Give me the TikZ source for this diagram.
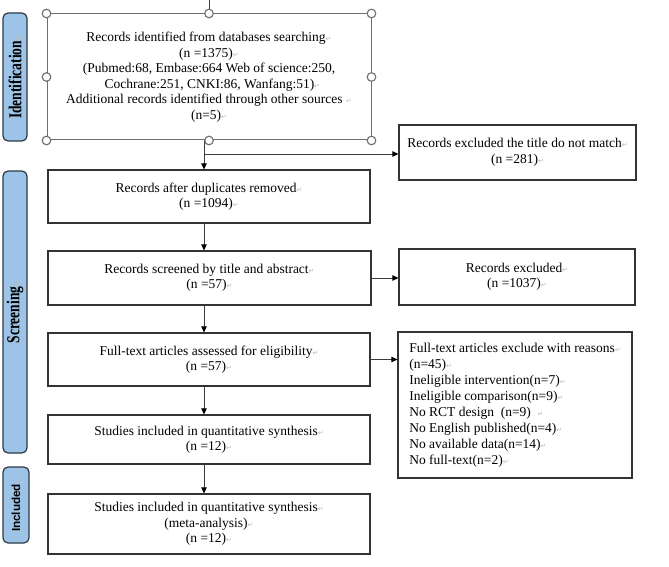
\documentclass[tikz,border=0pt]{standalone}
\usepackage{fontspec}
\setmainfont{Liberation Serif}
\newfontfamily\labsans{Liberation Sans}
\newfontfamily\dvsans{DejaVu Sans}
\usetikzlibrary{arrows.meta}
\definecolor{labblue}{RGB}{157,195,230}
\definecolor{labline}{RGB}{47,58,70}
\definecolor{boxline}{RGB}{51,51,51}
\definecolor{selline}{RGB}{110,110,110}
\definecolor{arrline}{RGB}{60,60,60}
\newcommand{\rt}{{\dvsans\fontsize{7}{7}\selectfont\color{gray!55}↵}}
\begin{document}
\begin{tikzpicture}[x=1pt,y=-1pt,
  box/.style={draw=boxline,line width=1.2pt,minimum width=322pt,inner sep=0pt,align=center,
    font=\fontsize{13.5}{15.5}\selectfont},
  selbox/.style={draw=selline,line width=1pt,minimum width=324pt,minimum height=126pt,inner sep=0pt,align=center,
    font=\fontsize{13.5}{15.5}\selectfont},
  handle/.style={draw=selline,line width=1.1pt,fill=white},
  lab/.style={draw=labline,line width=1.2pt,fill=labblue,rounded corners=5pt,inner sep=0pt,minimum width=24pt},
  arr/.style={draw=arrline,line width=0.8pt,-{Triangle[length=6pt,width=5.5pt,color=black]}},
  conn/.style={draw=arrline,line width=0.8pt}
]
\useasboundingbox (0,0) rectangle (669,567);

% side labels
\node[lab,minimum height=128pt] (lid) at (15,77)
  {\rotatebox{90}{\scalebox{1}[1.35]{\fontsize{13.5}{13.5}\selectfont\bfseries Identification\rt}}};
\node[lab,minimum height=282pt] (lsc) at (15,312)
  {\rotatebox{90}{\scalebox{1}[1.35]{\fontsize{13.5}{13.5}\selectfont\bfseries Screening\rt}}};
\node[lab,minimum width=26pt,minimum height=76pt] (lin) at (16,505)
  {\rotatebox{90}{\labsans\fontsize{11.7}{11.7}\selectfont\bfseries Included\rt}};

% main column
\node[selbox] (b1) at (209,77) {Records identified from databases searching\rt\\
(n =1375)\rt\\
(Pubmed:68, Embase:664 Web of science:250, \\
\ \ Cochrane:251, CNKI:86, Wanfang:51)\rt\\
Additional records identified through other sources \rt\\
(n=5)\rt};
\node[box,minimum height=53pt] (b2) at (209,196.5) {Records after duplicates removed\rt\\(n =1094)\rt};
\node[box,minimum height=54pt,minimum width=323pt] (b3) at (209.5,278) {Records screened by title and abstract\rt\\(n =57)\rt};
\node[box,minimum height=53pt] (b4) at (209,359.5) {Full-text articles assessed for eligibility\rt\\(n =57)\rt};
\node[box,minimum height=49pt] (b5) at (209,439.5) {Studies included in quantitative synthesis\rt\\(n =12)\rt};
\node[box,minimum height=60pt] (b6) at (209,524) {Studies included in quantitative synthesis\rt\\(meta-analysis)\rt\\(n =12)\rt};

% exclusion column
\node[box,minimum width=237pt,minimum height=55pt] (e1) at (517.5,152.5) {Records excluded the title do not match\rt\\(n =281)\rt};
\node[box,minimum width=236pt,minimum height=56pt] (e2) at (517,277) {Records excluded\rt\\(n =1037)\rt};
\node[box,minimum width=234pt,minimum height=146pt,align=left,
  font=\fontsize{13.5}{16}\selectfont] (e3) at (515,405)
  {Full-text articles exclude with reasons\rt\\
   (n=45)\rt\\
   Ineligible intervention(n=7)\rt\\
   Ineligible comparison(n=9)\rt\\
   No RCT design\ \ (n=9)\ \ \rt\\
   No English published(n=4)\rt\\
   No available data(n=14)\rt\\
   No full-text(n=2)\rt};

% connectors
\coordinate (topend) at (209,0);
\coordinate (axis) at (204,0);
\coordinate (branch) at (204,154);
\draw[conn] (topend) -- (b1.north);
\draw[arr] (b1.south -| axis) -- (b2.north -| axis);
\draw[arr] (branch) -- (branch -| e1.west);
\draw[arr] (b2.south -| axis) -- (b3.north -| axis);
\draw[arr] (b3.south -| axis) -- (b4.north -| axis);
\draw[arr] (b4.south -| axis) -- (b5.north -| axis);
\draw[arr] (b5.south -| axis) -- (b6.north -| axis);
\draw[arr] (b3.east) -- (b3.east -| e2.west);
\draw[arr] (b4.east) -- (b4.east -| e3.west);

% selection handles
\foreach \a in {north west,north,north east,west,east,south west,south,south east}
  \draw[handle] (b1.\a) circle (4.3pt);
\end{tikzpicture}
\end{document}
